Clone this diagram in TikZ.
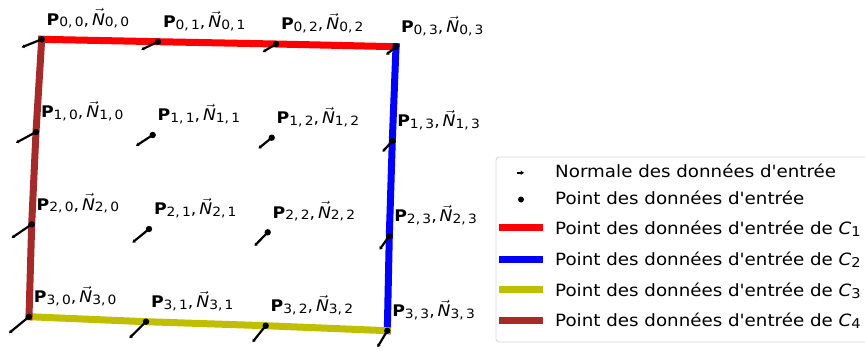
\documentclass[tikz,border=0pt]{standalone}
\usepackage{amsmath}
\usepackage{fontspec}
\setmainfont{DejaVu Sans}
\usetikzlibrary{arrows.meta}
\definecolor{curveRed}{RGB}{255,0,0}
\definecolor{curveBlue}{RGB}{0,0,255}
\definecolor{curveOlive}{RGB}{191,191,0}
\definecolor{curveBrown}{RGB}{165,42,42}
\definecolor{legendEdge}{RGB}{214,214,214}
\newcommand{\subidx}[1]{\raisebox{-0.12em}{\fontsize{0.8em}{1em}\selectfont #1}}
\newcommand{\wide}[1]{\scalebox{1.08}[1]{#1}}
\newcommand{\ptlabel}[2]{\wide{\textbf{P}\subidx{#1,\,#2},\,$\vec{\textit{N}}$\subidx{#1,\,#2}}}
\newcommand{\curvelabel}[1]{\wide{Point des données d\textquotesingle entrée de \textit{C}\subidx{#1}}}
\tikzset{
  boundary/.style={
    line width=7pt,
    line cap=rect
  },
  legline/.style={
    line width=7pt
  },
  normalvec/.style={
    line width=2.2pt,
    -{Stealth[length=3pt,width=4pt]}
  },
  ptlab/.style={
    anchor=base west,
    inner sep=0pt,
    font=\fontsize{16}{18}\selectfont
  },
  legtext/.style={
    anchor=base west,
    inner sep=0pt,
    font=\fontsize{16.9}{20}\selectfont
  }
}

\begin{document}
\begin{tikzpicture}[x=1pt,y=-1pt]
  \useasboundingbox (0,0) rectangle (865,349);
  % grid points and normal ends
  \foreach \i/\j/\x/\y in {0/0/41.7/39.3, 0/1/158/41.7, 0/2/276/44, 0/3/396/46.7,
                           1/0/36/132, 1/1/152.7/135, 1/2/271.7/137.7, 1/3/392.3/141,
                           2/0/31.7/224.3, 2/1/149/229, 2/2/267.7/232.3, 2/3/389.3/236,
                           3/0/29/316.7, 3/1/146/321.7, 3/2/265.7/325.7, 3/3/387.3/330.7} {
    \coordinate (P-\i-\j) at (\x,\y);
    \coordinate (N-\i-\j) at ([shift={({-20+3.4*\j},{8+2.8*\i})}]P-\i-\j);
    \node[ptlab] (L-\i-\j) at ([shift={(4.8,-14.3)}]P-\i-\j) {\ptlabel{\i}{\j}};
  }
  % boundary curves
  \draw[boundary,curveRed] (P-0-0) -- (P-0-1) -- (P-0-2) -- (P-0-3);
  \draw[boundary,curveBlue] (P-0-3) -- (P-1-3) -- (P-2-3) -- (P-3-3);
  \draw[boundary,curveOlive] (P-3-0) -- (P-3-1) -- (P-3-2) -- (P-3-3);
  \draw[boundary,curveBrown] (P-0-0) -- (P-1-0) -- (P-2-0) -- (P-3-0);
  \foreach \i in {0,...,3} {
    \foreach \j in {0,...,3} {
      \draw[normalvec] (P-\i-\j) -- (N-\i-\j);
      \fill (P-\i-\j) circle (3.2pt);
    }
  }
  % legend
  \draw[legendEdge,fill=white,line width=0.8pt,rounded corners=3pt] (496,157) rectangle (880,342);
  \node[legtext] (lg1) at (555,177.3) {\wide{Normale des données d\textquotesingle entrée}};
  \node[legtext] (lg2) at (555,204) {\wide{Point des données d\textquotesingle entrée}};
  \node[legtext] (lg3) at (555,234.3) {\curvelabel{1}};
  \node[legtext] (lg4) at (555,265.7) {\curvelabel{2}};
  \node[legtext] (lg5) at (555,296) {\curvelabel{3}};
  \node[legtext] (lg6) at (555,326.7) {\curvelabel{4}};
  \draw[line width=1.5pt,-{Stealth[length=3.5pt,width=4.5pt]}] ([shift={(-38,-4.5)}]lg1.base west) -- ++(7,0);
  \fill ([shift={(-34,-4.5)}]lg2.base west) circle (3pt);
  \draw[legline,curveRed] ([shift={(-56,-6.6)}]lg3.base west) -- ++(44,0);
  \draw[legline,curveBlue] ([shift={(-56,-6.6)}]lg4.base west) -- ++(44,0);
  \draw[legline,curveOlive] ([shift={(-56,-6.6)}]lg5.base west) -- ++(44,0);
  \draw[legline,curveBrown] ([shift={(-56,-6.6)}]lg6.base west) -- ++(44,0);
\end{tikzpicture}
\end{document}
